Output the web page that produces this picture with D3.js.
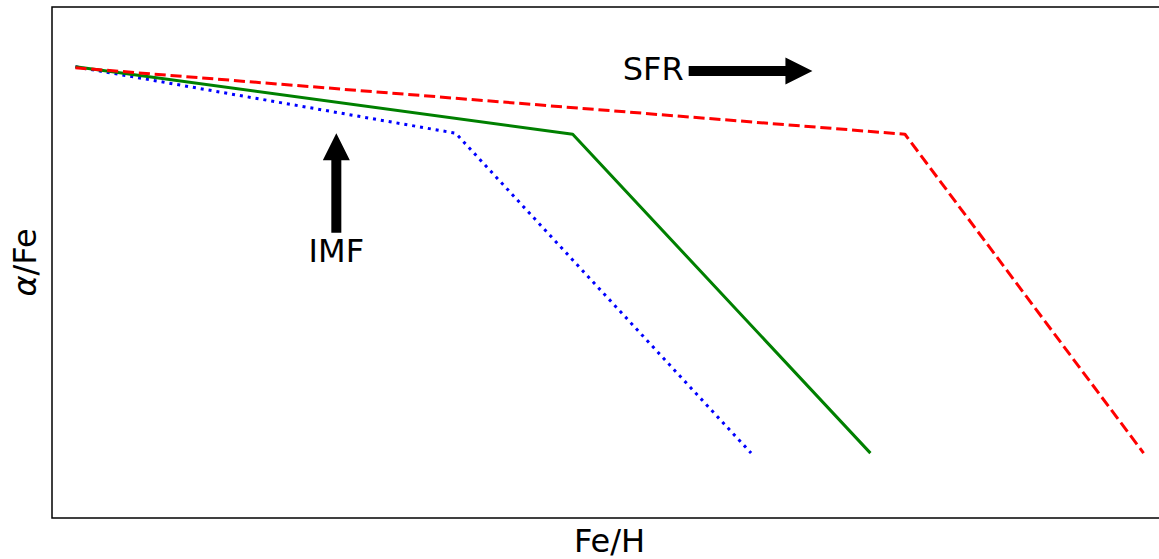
<!DOCTYPE html>
<html>
<head>
<meta charset="utf-8">
<script src="https://cdn.jsdelivr.net/npm/d3@7"></script>
<style>
  body { margin: 0; background: #fff; }
  svg { display: block; font-family: "DejaVu Sans", sans-serif; }
</style>
</head>
<body>
<svg width="1159" height="559"></svg>
<script>
// schematic tracks in [Fe/H] vs [alpha/Fe], arbitrary units (0..1)
const blueTrack = [[0.021, 0.883], [0.362, 0.753], [0.627, 0.127]];
const greenTrack = [[0.021, 0.883], [0.467, 0.751], [0.734, 0.127]];
const redTrack = [[0.021, 0.881], [0.765, 0.751], [0.979, 0.127]];

// arrow annotations, also in data units
const sfrArrow = { x0: 0.571, y0: 0.875, x1: 0.682, y1: 0.875, label: "SFR" };
const imfArrow = { x0: 0.255, y0: 0.558, x1: 0.255, y1: 0.753, label: "IMF" };

const svg = d3.select("svg");
const margin = { left: 52, top: 7, right: -8, bottom: 41 };
const width = 1159 - margin.left - margin.right;
const height = 559 - margin.top - margin.bottom;
const fontSize = 32;

const xScale = d3.scaleLinear().domain([0, 1]).range([margin.left, margin.left + width]);
const yScale = d3.scaleLinear().domain([0, 1]).range([margin.top + height, margin.top]);

const lineGenerator = d3
  .line()
  .x(function (d) {
    return xScale(d[0]);
  })
  .y(function (d) {
    return yScale(d[1]);
  });

// tracks
const tracks = [
  { pts: blueTrack, color: "#0000ff", dash: "3,4.95" },
  { pts: greenTrack, color: "#008000", dash: null },
  { pts: redTrack, color: "#ff0000", dash: "11.1,4.8" },
];

svg
  .selectAll("path.track")
  .data(tracks)
  .enter()
  .append("path")
  .attr("class", "track")
  .attr("d", function (d) {
    return lineGenerator(d.pts);
  })
  .attr("fill", "none")
  .attr("stroke", function (d) {
    return d.color;
  })
  .attr("stroke-width", 3)
  .attr("stroke-linejoin", "round")
  .attr("stroke-dasharray", function (d) {
    return d.dash;
  });

// fancy block arrow: shaft 10px, head 27x27
function arrowPath(a) {
  const x0 = xScale(a.x0), y0 = yScale(a.y0);
  const x1 = xScale(a.x1), y1 = yScale(a.y1);
  const len = Math.hypot(x1 - x0, y1 - y0);
  const ux = (x1 - x0) / len, uy = (y1 - y0) / len;
  const nx = -uy, ny = ux;
  const sw = 5, hw = 13.5, hl = 27;
  const bx = x1 - ux * hl, by = y1 - uy * hl;
  const p = d3.path();
  p.moveTo(x0 + nx * sw, y0 + ny * sw);
  p.lineTo(bx + nx * sw, by + ny * sw);
  p.lineTo(bx + nx * hw, by + ny * hw);
  p.lineTo(x1, y1);
  p.lineTo(bx - nx * hw, by - ny * hw);
  p.lineTo(bx - nx * sw, by - ny * sw);
  p.lineTo(x0 - nx * sw, y0 - ny * sw);
  p.closePath();
  return p.toString();
}

svg.append("path").attr("d", arrowPath(sfrArrow)).attr("fill", "#000");
svg.append("path").attr("d", arrowPath(imfArrow)).attr("fill", "#000");

svg
  .append("text")
  .attr("x", xScale(sfrArrow.x0) - 5)
  .attr("y", yScale(sfrArrow.y0) + 9)
  .attr("text-anchor", "end")
  .attr("font-size", fontSize)
  .text(sfrArrow.label);

svg
  .append("text")
  .attr("x", xScale(imfArrow.x0))
  .attr("y", yScale(imfArrow.y0) + 29)
  .attr("text-anchor", "middle")
  .attr("font-size", fontSize)
  .text(imfArrow.label);

// frame (no ticks)
svg
  .append("rect")
  .attr("x", margin.left)
  .attr("y", margin.top)
  .attr("width", width)
  .attr("height", height)
  .attr("fill", "none")
  .attr("stroke", "#000")
  .attr("stroke-width", 1.5);

// axis labels
svg
  .append("text")
  .attr("x", margin.left + width / 2)
  .attr("y", 551.5)
  .attr("text-anchor", "middle")
  .attr("font-size", fontSize)
  .text("Fe/H");

const yl = svg
  .append("text")
  .attr("transform", "translate(36," + (margin.top + height / 2) + ") rotate(-90)")
  .attr("text-anchor", "middle")
  .attr("font-size", fontSize);
yl.append("tspan").attr("font-style", "italic").text("α");
yl.append("tspan").text("/Fe");
</script>
</body>
</html>
